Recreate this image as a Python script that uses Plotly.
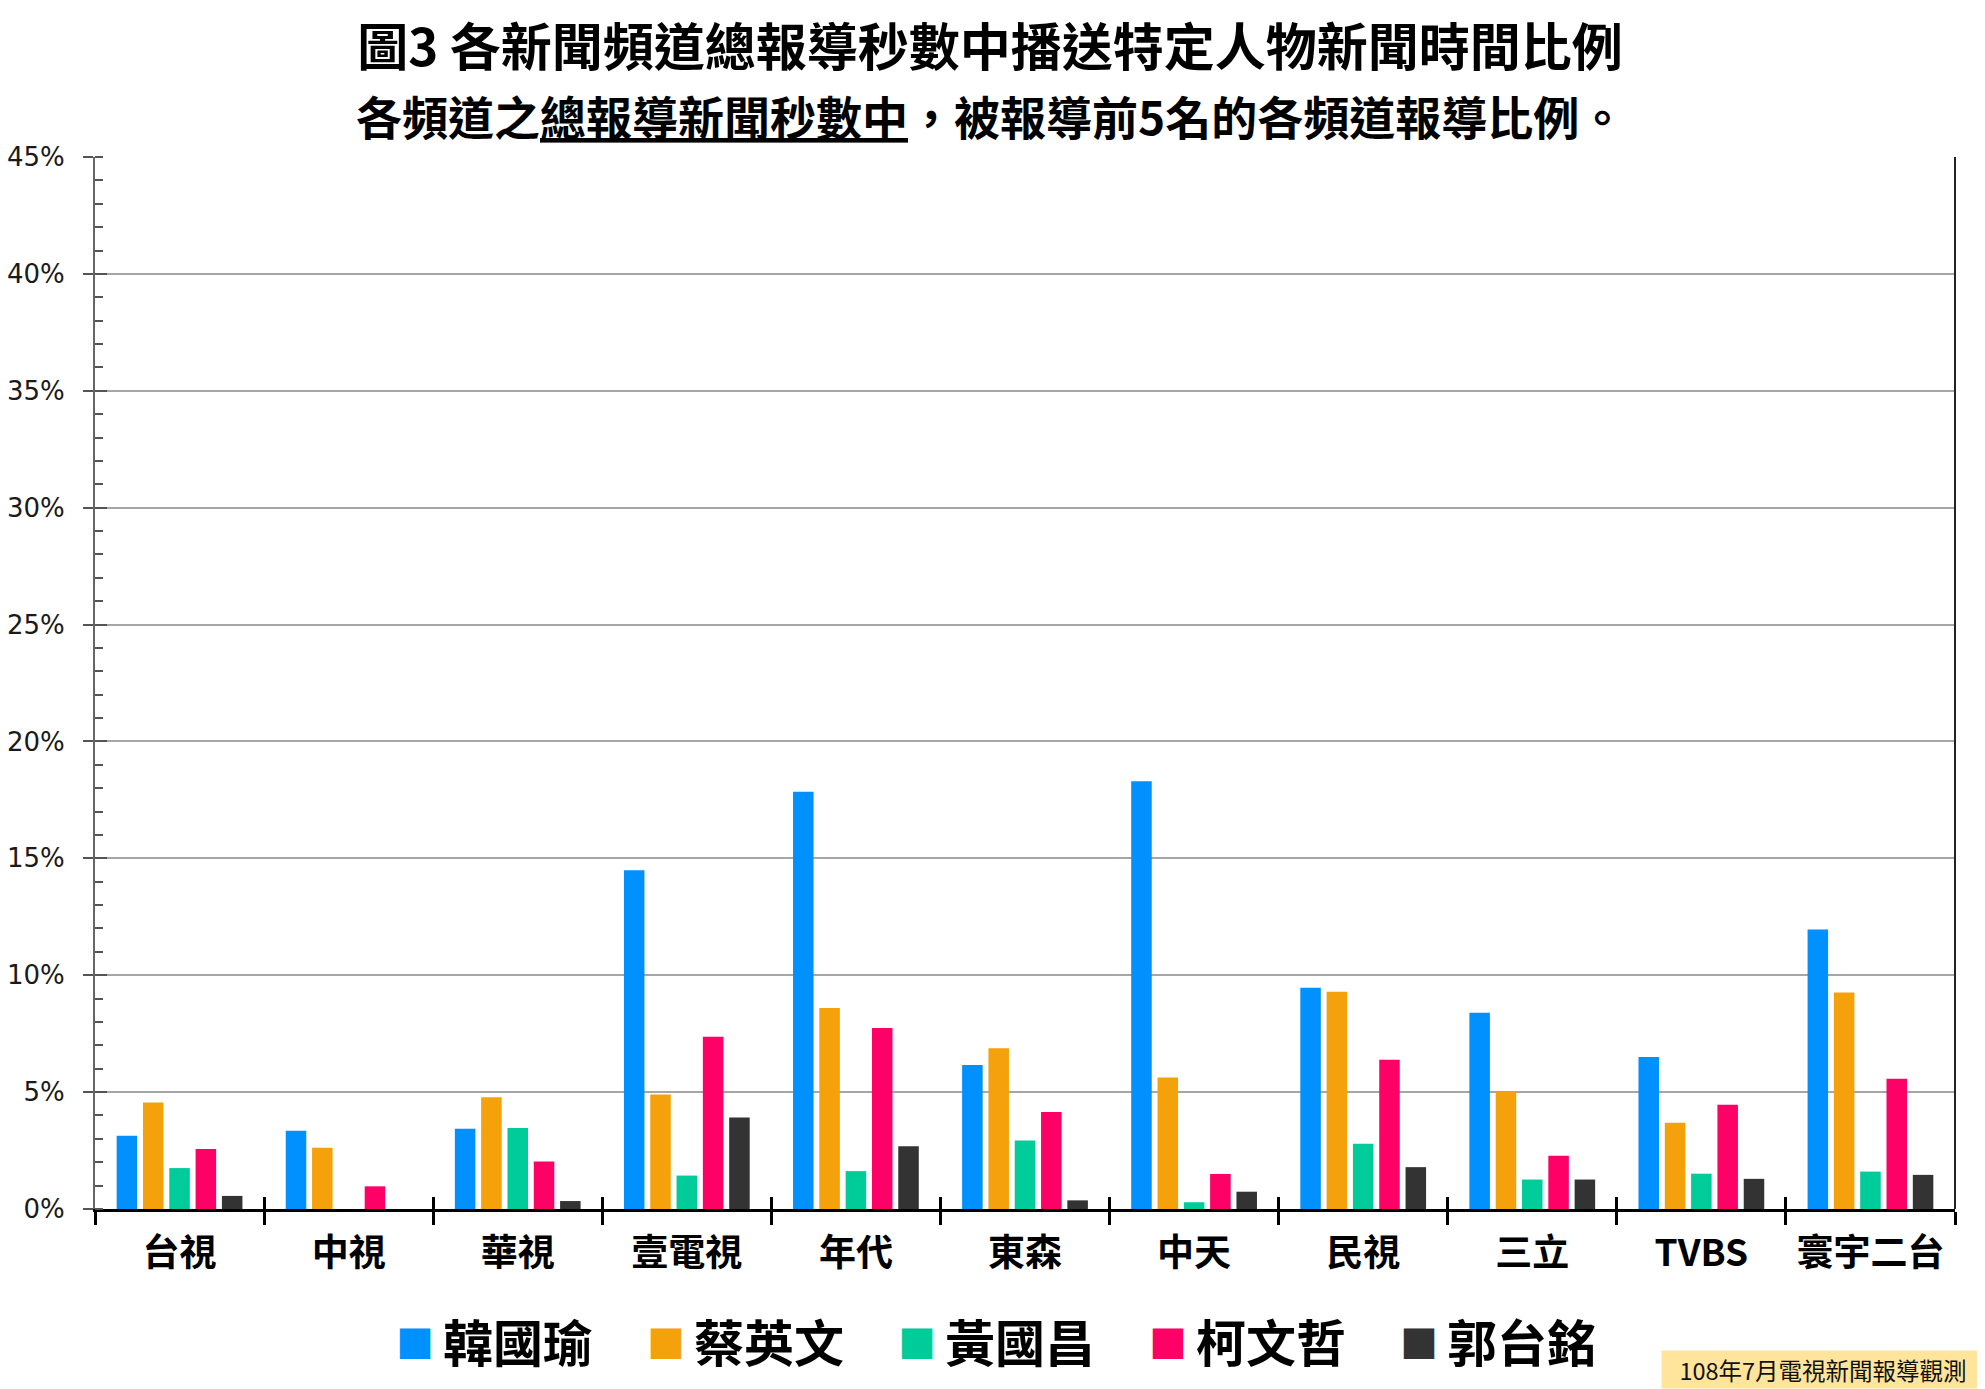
import plotly.graph_objects as go

channels = ["台視", "中視", "華視", "壹電視", "年代", "東森", "中天", "民視", "三立", "TVBS", "寰宇二台"]

series_names = ["韓國瑜", "蔡英文", "黃國昌", "柯文哲", "郭台銘"]
series_colors = ["#0091FF", "#F5A10C", "#00CC99", "#FF0066", "#333333"]

han_kuo_yu = [3.13, 3.35, 3.43, 14.49, 17.85, 6.16, 18.30, 9.46, 8.40, 6.50, 11.96]
tsai_ing_wen = [4.56, 2.62, 4.78, 4.90, 8.60, 6.88, 5.63, 9.29, 5.00, 3.69, 9.26]
huang_kuo_chang = [1.75, 0.00, 3.47, 1.43, 1.62, 2.93, 0.29, 2.79, 1.26, 1.51, 1.60]
ko_wen_je = [2.57, 0.97, 2.03, 7.37, 7.74, 4.15, 1.50, 6.38, 2.28, 4.46, 5.57]
terry_gou = [0.56, 0.00, 0.34, 3.91, 2.68, 0.37, 0.74, 1.79, 1.26, 1.29, 1.46]

series_values = [han_kuo_yu, tsai_ing_wen, huang_kuo_chang, ko_wen_je, terry_gou]

y_ticks = [0, 5, 10, 15, 20, 25, 30, 35, 40, 45]
y_tick_labels = ["0%", "5%", "10%", "15%", "20%", "25%", "30%", "35%", "40%", "45%"]

title_text = "圖3 各新聞頻道總報導秒數中播送特定人物新聞時間比例"
subtitle_text = "各頻道之<u>總報導新聞秒數中</u>，被報導前5名的各頻道報導比例。"
footnote_text = "108年7月電視新聞報導觀測"

CJK = "Noto Sans CJK TC"
OFF = 8  # default page body margin
W, H = 1985 - OFF, 1389 - OFF
PLOT_L, PLOT_R, PLOT_T, PLOT_B = 95, 1955, 157, 1209  # page pixels
L = PLOT_L - OFF
T = PLOT_T - OFF
R = W - (PLOT_R - OFF)
B = H - (PLOT_B - OFF)
PW = PLOT_R - PLOT_L
PH = PLOT_B - PLOT_T

fig = go.Figure()
for name, color, vals in zip(series_names, series_colors, series_values):
    fig.add_trace(go.Bar(
        x=channels, y=vals, name=name, marker_color=color,
        marker_line_width=0, showlegend=False,
        hovertemplate="%{x} " + name + ": %{y:.2f}%<extra></extra>",
    ))

# helper trace carrying the overlaid axes (inside half of crossing ticks)
fig.add_trace(go.Scatter(
    x=channels, y=[0] * len(channels), xaxis="x2", yaxis="y2",
    mode="markers", marker=dict(opacity=0), hoverinfo="skip", showlegend=False,
))


def px_x(p):
    return (p - PLOT_L) / PW


def px_y(p):
    return (PLOT_B - p) / PH


annotations = []
annotations.append(dict(
    text=subtitle_text, xref="paper", yref="paper", x=px_x(990), y=px_y(115),
    xanchor="center", yanchor="middle", showarrow=False,
    font=dict(family=CJK, size=46, color="#000000", weight="bold"),
))

# legend built as text items
leg_x0 = 398
leg_step = 251
for i, (name, color) in enumerate(zip(series_names, series_colors)):
    sx = leg_x0 + i * leg_step
    annotations.append(dict(
        text="■", xref="paper", yref="paper", x=px_x(sx - 4), y=px_y(1341),
        xanchor="left", yanchor="middle", showarrow=False,
        font=dict(family=CJK, size=38, color=color),
    ))
    annotations.append(dict(
        text=name, xref="paper", yref="paper", x=px_x(sx + 43), y=px_y(1340),
        xanchor="left", yanchor="middle", showarrow=False,
        font=dict(family=CJK, size=50, color="#000000", weight="bold"),
    ))

annotations.append(dict(
    text=footnote_text, xref="paper", yref="paper", x=px_x(1985), y=px_y(1389),
    xanchor="right", yanchor="bottom", showarrow=False,
    bgcolor="#FFE49C", width=318, height=33, borderpad=2, align="center",
    font=dict(family=CJK, size=23.5, color="#111111"),
))

fig.update_layout(
    width=W, height=H,
    margin=dict(l=L, r=R, t=T, b=B, autoexpand=False),
    paper_bgcolor="white", plot_bgcolor="white",
    barmode="group", bargap=0.222, bargroupgap=0.22,
    title=dict(
        text=title_text, x=(990 - OFF) / W, xanchor="center", xref="container",
        y=1 - (48 - OFF) / H, yanchor="middle", yref="container",
        font=dict(family=CJK, size=51, color="#000000", weight="bold"),
        automargin=False,
    ),
    xaxis=dict(
        type="category", categoryorder="array", categoryarray=channels,
        range=[-0.5, len(channels) - 0.5], automargin=False,
        tickson="boundaries", ticks="outside", ticklen=13, tickwidth=2.5, tickcolor="#000000",
        showline=True, linecolor="#000000", linewidth=3,
        showgrid=False, zeroline=False,
        tickfont=dict(family=CJK, size=37, color="#000000", weight="bold"),
        ticklabelstandoff=10,
    ),
    xaxis2=dict(
        type="category", categoryorder="array", categoryarray=channels,
        range=[-0.5, len(channels) - 0.5], overlaying="x", anchor="y2", automargin=False,
        tickson="boundaries", ticks="inside", ticklen=12, tickwidth=2.5, tickcolor="#000000",
        showticklabels=False, showline=False, showgrid=False, zeroline=False,
    ),
    yaxis=dict(
        range=[0, 45], tickvals=y_ticks, ticktext=y_tick_labels, automargin=False,
        ticks="outside", ticklen=10, tickwidth=2, tickcolor="#555555",
        showline=True, linecolor="#666666", linewidth=2,
        showgrid=True, gridcolor="#A6A6A6", gridwidth=1.5, zeroline=False,
        minor=dict(dtick=1, ticks="inside", ticklen=8, tickwidth=1.5, tickcolor="#555555", showgrid=False),
        tickfont=dict(family="DejaVu Sans", size=26, color="#1a1a1a"),
        ticklabelstandoff=13,
    ),
    yaxis2=dict(
        range=[0, 45], tickvals=y_ticks, overlaying="y", anchor="x2", side="left", automargin=False,
        ticks="inside", ticklen=12, tickwidth=2, tickcolor="#555555",
        showticklabels=False, showline=False, showgrid=False, zeroline=False,
    ),
    shapes=[dict(
        type="line", xref="paper", yref="paper", x0=1, x1=1, y0=0, y1=1,
        line=dict(color="#222222", width=2),
    )],
    annotations=annotations,
)

fig.write_html("out.html")
